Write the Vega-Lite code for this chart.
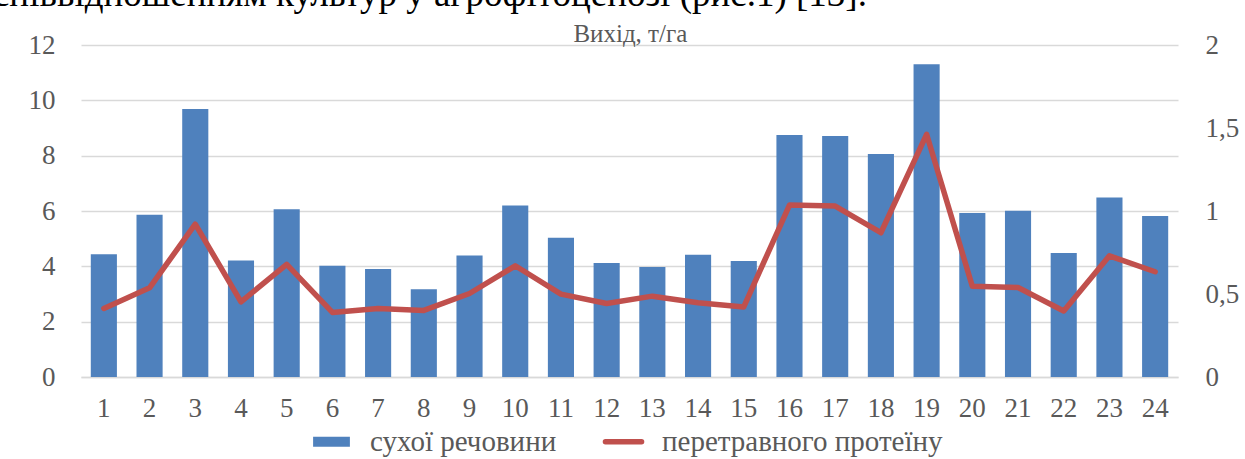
{
  "$schema": "https://vega.github.io/schema/vega-lite/v6.json",
  "width": 1097,
  "height": 332,
  "autosize": {"type": "none"},
  "padding": {"left": 81, "top": 45, "right": 67, "bottom": 82},
  "background": "white",
  "datasets": {
    "main": [
      {"n": 1, "dry": 4.44, "prot": 0.413},
      {"n": 2, "dry": 5.86, "prot": 0.537},
      {"n": 3, "dry": 9.69, "prot": 0.921},
      {"n": 4, "dry": 4.21, "prot": 0.453},
      {"n": 5, "dry": 6.06, "prot": 0.678},
      {"n": 6, "dry": 4.02, "prot": 0.389},
      {"n": 7, "dry": 3.9, "prot": 0.413},
      {"n": 8, "dry": 3.17, "prot": 0.401},
      {"n": 9, "dry": 4.39, "prot": 0.503},
      {"n": 10, "dry": 6.2, "prot": 0.67},
      {"n": 11, "dry": 5.03, "prot": 0.499},
      {"n": 12, "dry": 4.12, "prot": 0.443},
      {"n": 13, "dry": 3.98, "prot": 0.487},
      {"n": 14, "dry": 4.42, "prot": 0.447},
      {"n": 15, "dry": 4.19, "prot": 0.422},
      {"n": 16, "dry": 8.75, "prot": 1.036},
      {"n": 17, "dry": 8.71, "prot": 1.03},
      {"n": 18, "dry": 8.06, "prot": 0.869},
      {"n": 19, "dry": 11.3, "prot": 1.462},
      {"n": 20, "dry": 5.93, "prot": 0.547},
      {"n": 21, "dry": 6.01, "prot": 0.539},
      {"n": 22, "dry": 4.48, "prot": 0.398},
      {"n": 23, "dry": 6.49, "prot": 0.73},
      {"n": 24, "dry": 5.82, "prot": 0.634}
    ],
    "one": [{"k": 1}]
  },
  "layer": [
    {
      "data": {"name": "main"},
      "mark": {"type": "bar"},
      "encoding": {
        "x": {
          "field": "n",
          "type": "ordinal",
          "scale": {"paddingInner": 0.4286, "paddingOuter": 0.2143},
          "axis": {
            "title": null,
            "labelAngle": 0,
            "ticks": false,
            "domainColor": "#D9D9D9",
            "domainWidth": 1.5,
            "labelPadding": 18,
            "labelFont": "Liberation Serif",
            "labelFontSize": 27,
            "labelColor": "#595959"
          }
        },
        "y": {
          "field": "dry",
          "type": "quantitative",
          "scale": {"domain": [0, 12], "nice": false},
          "axis": {
            "title": null,
            "values": [0, 2, 4, 6, 8, 10, 12],
            "grid": true,
            "gridColor": "#D9D9D9",
            "gridWidth": 1.5,
            "domain": false,
            "ticks": false,
            "labelPadding": 26,
            "labelFont": "Liberation Serif",
            "labelFontSize": 27,
            "labelColor": "#595959"
          }
        },
        "color": {
          "datum": "сухої речовини",
          "type": "nominal",
          "scale": {"domain": ["сухої речовини", "перетравного протеїну"], "range": ["#4F81BD", "#C0504D"]},
          "legend": {
            "title": null,
            "orient": "bottom",
            "direction": "horizontal",
            "symbolSize": 3136,
            "labelFont": "Liberation Serif",
            "labelFontSize": 29,
            "labelColor": "#595959",
            "labelOffset": 24,
            "columnPadding": 37,
            "encode": {
              "symbols": {
                "update": {
                  "shape": {"signal": "datum.value === 'сухої речовини' ? 'M-0.657,-0.177H0.657V0.177H-0.657Z' : 'M-0.644,0H0.644'"},
                  "size": {"value": 3136},
                  "fill": {"signal": "datum.value === 'сухої речовини' ? '#4F81BD' : 'transparent'"},
                  "stroke": {"signal": "datum.value === 'сухої речовини' ? 'transparent' : '#C0504D'"},
                  "strokeWidth": {"signal": "datum.value === 'сухої речовини' ? 0 : 5.5"},
                  "strokeCap": {"value": "round"},
                  "opacity": {"value": 1},
                  "fillOpacity": {"value": 1},
                  "strokeOpacity": {"value": 1}
                }
              },
              "labels": {
                "update": {
                  "font": {"value": "Liberation Serif"},
                  "fontSize": {"value": 29},
                  "fill": {"value": "#595959"}
                }
              }
            }
          }
        }
      }
    },
    {
      "data": {"name": "main"},
      "mark": {"type": "line", "strokeWidth": 5.5, "strokeJoin": "round", "strokeCap": "round"},
      "encoding": {
        "x": {"field": "n", "type": "ordinal"},
        "y": {
          "field": "prot",
          "type": "quantitative",
          "scale": {"domain": [0, 2], "nice": false},
          "axis": {
            "title": null,
            "orient": "right",
            "values": [0, 0.5, 1, 1.5, 2],
            "grid": false,
            "domain": false,
            "ticks": false,
            "labelPadding": 27,
            "labelFont": "Liberation Serif",
            "labelFontSize": 27,
            "labelColor": "#595959",
            "labelExpr": "replace(toString(datum.value), '.', ',')"
          }
        },
        "color": {"datum": "перетравного протеїну", "type": "nominal"}
      }
    },
    {
      "data": {"name": "one"},
      "mark": {"type": "text", "font": "Liberation Serif", "fontSize": 25, "fontWeight": "normal", "fill": "#595959", "baseline": "alphabetic", "align": "center", "dx": -22, "dy": -3},
      "encoding": {
        "x": {"datum": 13, "type": "ordinal"},
        "y": {"datum": 12, "type": "quantitative", "scale": {"domain": [0, 12], "nice": false}, "axis": null},
        "text": {"value": "Вихід, т/га"}
      }
    },
    {
      "data": {"name": "one"},
      "mark": {"type": "text", "font": "Liberation Serif", "fontSize": 37, "fontWeight": "normal", "fill": "#000000", "baseline": "alphabetic", "align": "right", "dx": -14},
      "encoding": {
        "x": {"datum": 18, "type": "ordinal"},
        "y": {"datum": 13.42, "type": "quantitative", "scale": {"domain": [0, 12], "nice": false}, "axis": null},
        "text": {"value": "співвідношенням культур у агрофітоценозі (рис.1) [13]."}
      }
    }
  ],
  "resolve": {"scale": {"y": "independent"}},
  "config": {
    "view": {"stroke": null},
    "legend": {
      "offset": 6,
      "symbolSize": 3136,
      "labelFont": "Liberation Serif",
      "labelFontSize": 29,
      "labelColor": "#595959",
      "labelLimit": 600,
      "layout": {"bottom": {"anchor": "middle"}}
    }
  }
}
